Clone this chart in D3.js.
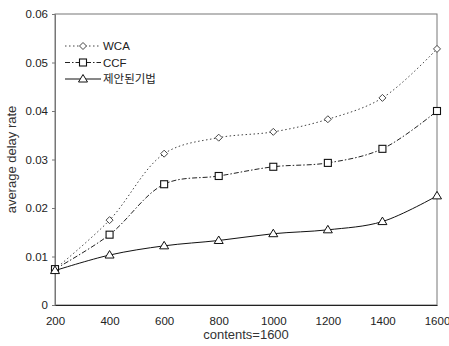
<!DOCTYPE html>
<html>
<head>
<meta charset="utf-8">
<script src="https://cdn.jsdelivr.net/npm/d3@7"></script>
<style>
  body { margin: 0; background: #fff; }
  text { font-family: "Liberation Sans", Arial, "Noto Sans CJK KR", sans-serif; }
</style>
</head>
<body>
<script>
// values
const contents = [200, 400, 600, 800, 1000, 1200, 1400, 1600];
const wca = [0.0074, 0.0175, 0.0312, 0.0345, 0.0357, 0.0383, 0.0427, 0.0528];
const ccf = [0.0074, 0.0145, 0.0249, 0.0266, 0.0285, 0.0293, 0.0322, 0.0400];
const proposed = [0.0071, 0.0103, 0.0122, 0.0133, 0.0147, 0.0155, 0.0172, 0.0225];
const seriesNames = ["WCA", "CCF", "제안된기법"];
const yTicks = [0, 0.01, 0.02, 0.03, 0.04, 0.05, 0.06];

const W = 449, H = 346;
const m = {left: 55, right: 12, top: 14, bottom: 41};

const svg = d3.select("body").append("svg")
  .attr("width", W).attr("height", H);

const x = d3.scaleLinear().domain([200, 1600]).range([m.left, W - m.right]);
const y = d3.scaleLinear().domain([0, 0.06]).range([H - m.bottom, m.top]);

// frame
svg.append("rect")
  .attr("x", x(200)).attr("y", y(0.06))
  .attr("width", x(1600) - x(200)).attr("height", y(0) - y(0.06))
  .attr("fill", "none").attr("stroke", "#777").attr("stroke-width", 1);

// y axis
const yAxis = svg.append("g")
  .attr("transform", `translate(${x(200)},0)`)
  .call(d3.axisLeft(y).tickValues(yTicks).tickSize(3).tickPadding(4)
    .tickFormat(d => d === 0 ? "0" : d3.format(".2f")(d)));
yAxis.select(".domain").attr("stroke", "#777");
yAxis.selectAll(".tick line").attr("stroke", "#777");
yAxis.selectAll("text").attr("font-size", 11.5).attr("fill", "#222");

// x axis
const xAxis = svg.append("g")
  .attr("transform", `translate(0,${y(0)})`)
  .call(d3.axisBottom(x).tickValues(contents).tickSize(0).tickPadding(12)
    .tickFormat(d3.format("d")));
xAxis.select(".domain").attr("stroke", "#222");
xAxis.selectAll("text").attr("font-size", 11.5).attr("fill", "#222");

// axis titles
svg.append("text")
  .attr("transform", `translate(16,${(y(0) + y(0.06)) / 2}) rotate(-90)`)
  .attr("text-anchor", "middle")
  .attr("font-size", 13).attr("fill", "#333")
  .text("average delay rate");

svg.append("text")
  .attr("x", (x(200) + x(1600)) / 2).attr("y", 339)
  .attr("text-anchor", "middle")
  .attr("font-size", 13).attr("fill", "#333")
  .text("contents=1600");

const series = [
  {name: seriesNames[0], vals: wca, dash: "1.5,2.5", mark: "diamond", col: "#444"},
  {name: seriesNames[1], vals: ccf, dash: "5,2,1.5,2", mark: "square", col: "#222"},
  {name: seriesNames[2], vals: proposed, dash: null, mark: "triangle", col: "#111"}
];

const line = d3.line()
  .x((d, i) => x(contents[i]))
  .y(d => y(d))
  .curve(d3.curveCatmullRom.alpha(0.5));

function drawMark(g, type, cx, cy) {
  if (type === "diamond") {
    g.append("path")
      .attr("d", `M${cx},${cy - 3.5}L${cx + 3.5},${cy}L${cx},${cy + 3.5}L${cx - 3.5},${cy}Z`)
      .attr("fill", "#fff").attr("stroke", "#444").attr("stroke-width", 1);
  } else if (type === "square") {
    g.append("rect")
      .attr("x", cx - 3.5).attr("y", cy - 3.5).attr("width", 7).attr("height", 7)
      .attr("fill", "#fff").attr("stroke", "#111").attr("stroke-width", 1.1);
  } else {
    g.append("path")
      .attr("d", `M${cx},${cy - 4.5}L${cx + 4.5},${cy + 3}L${cx - 4.5},${cy + 3}Z`)
      .attr("fill", "#fff").attr("stroke", "#111").attr("stroke-width", 1);
  }
}

series.forEach(s => {
  const g = svg.append("g");
  g.append("path")
    .datum(s.vals)
    .attr("d", line)
    .attr("fill", "none")
    .attr("stroke", s.col)
    .attr("stroke-width", 1)
    .attr("stroke-dasharray", s.dash);
  s.vals.forEach((v, i) => drawMark(g, s.mark, x(contents[i]), y(v)));
});

// legend
const lg = svg.append("g");
series.forEach((s, i) => {
  const ly = 46 + i * 16.5;
  lg.append("line")
    .attr("x1", 65).attr("x2", 101).attr("y1", ly).attr("y2", ly)
    .attr("stroke", s.col).attr("stroke-width", 1)
    .attr("stroke-dasharray", s.dash);
  drawMark(lg, s.mark, 83, ly);
  lg.append("text")
    .attr("x", 103).attr("y", ly + 4)
    .attr("font-size", 11.5).attr("fill", "#222")
    .text(s.name);
});
</script>
</body>
</html>
